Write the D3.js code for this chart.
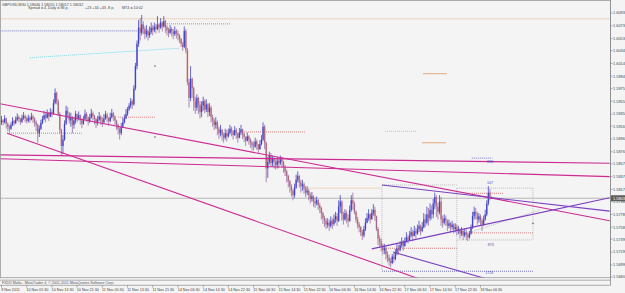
<!DOCTYPE html>
<html>
<head>
<meta charset="utf-8">
<script src="https://cdn.jsdelivr.net/npm/d3@7"></script>
<style>
  body { margin: 0; background: #f4f4f4; }
  svg { display: block; font-family: "Liberation Sans", Arial, sans-serif; }
</style>
</head>
<body>
<script>

// GBPUSD M30 bars, prices in pips above 1.5000 (925 = 1.5925)
// one row = 16 bars (8 hours), first bar 9 Nov 21:30
var firstOpen = 922;
var closes = [
  925, 922, 928, 920, 915, 912, 918, 924, 921, 926, 930, 927, 923, 929, 932, 928,
  924, 929, 926, 931, 928, 922, 918, 905, 912, 921, 927, 933, 929, 936, 931, 938,
  935, 952, 968, 955, 935, 910, 885, 895, 920, 940, 935, 925, 930, 918, 925, 935,
  928, 933, 925, 920, 927, 935, 930, 924, 929, 936, 932, 927, 921, 926, 931, 925,
  922, 928, 934, 929, 924, 930, 936, 931, 925, 918, 912, 905, 915, 922, 928, 935,
  942, 948, 955, 950, 975, 1010, 1045, 1070, 1062, 1075, 1068, 1060, 1065, 1058, 1063, 1070,
  1066, 1072, 1068, 1075, 1070, 1078, 1072, 1080, 1071, 1066, 1062, 1068, 1064, 1060, 1065, 1061,
  1058, 1052, 1045, 1040, 1065, 1035, 985, 960, 990, 975, 955, 945, 960, 950, 938, 948,
  955, 942, 950, 938, 945, 930, 925, 918, 922, 912, 905, 910, 902, 898, 905, 900,
  905, 912, 908, 902, 910, 905, 898, 906, 911, 904, 899, 893, 900, 895, 890, 886,
  884, 892, 887, 880, 888, 895, 915, 890, 850, 860, 870, 858, 865, 860, 855, 862,
  858, 864, 860, 852, 845, 838, 830, 822, 815, 808, 820, 832, 838, 828, 822, 825,
  818, 812, 815, 808, 802, 806, 798, 795, 800, 792, 788, 780, 772, 768, 762, 765,
  760, 768, 763, 770, 775, 768, 790, 798, 778, 770, 780, 772, 768, 785, 800, 795,
  782, 770, 762, 758, 750, 745, 755, 765, 772, 778, 770, 780, 785, 775, 755, 740,
  735, 728, 722, 725, 715, 710, 705, 702, 712, 708, 718, 725, 722, 730, 735, 728,
  736, 742, 738, 745, 750, 744, 752, 748, 755, 760, 752, 758, 770, 765, 778, 772,
  785, 778, 795, 805, 790, 782, 798, 770, 765, 772, 768, 760, 764, 758, 762, 755,
  758, 752, 755, 748, 752, 745, 750, 746, 742, 748, 758, 775, 782, 778, 770, 775,
  768, 762, 770, 778, 795, 812, 805, 803
];
var highs = [
  932, 927, 933, 929, 922, 918, 922, 930, 926, 931, 936, 933, 929, 934, 938, 934,
  931, 934, 932, 937, 934, 930, 925, 920, 917, 926, 932, 940, 936, 942, 938, 944,
  942, 958, 975, 970, 958, 938, 912, 902, 925, 948, 946, 938, 937, 932, 930, 940,
  936, 939, 934, 928, 932, 942, 938, 931, 935, 943, 939, 934, 929, 932, 938, 933,
  930, 935, 940, 937, 930, 937, 943, 938, 933, 926, 920, 914, 921, 929, 934, 943,
  946, 952, 960, 958, 980, 1015, 1050, 1082, 1085, 1090, 1080, 1072, 1074, 1068, 1072, 1078,
  1074, 1078, 1076, 1088, 1077, 1085, 1080, 1088, 1082, 1074, 1070, 1074, 1071, 1068, 1072, 1068,
  1066, 1060, 1054, 1048, 1072, 1068, 1038, 990, 1010, 992, 978, 962, 966, 962, 955, 955,
  962, 958, 958, 952, 952, 948, 934, 928, 930, 925, 915, 918, 912, 906, 912, 910,
  912, 918, 915, 910, 916, 913, 906, 913, 918, 912, 906, 900, 906, 902, 897, 893,
  892, 898, 895, 888, 894, 902, 922, 918, 892, 868, 876, 874, 870, 868, 864, 868,
  866, 870, 868, 862, 855, 848, 840, 832, 825, 818, 826, 840, 845, 840, 832, 832,
  828, 822, 822, 818, 812, 813, 808, 804, 806, 802, 796, 790, 782, 776, 772, 772,
  770, 775, 772, 778, 782, 780, 800, 808, 800, 782, 786, 784, 778, 792, 808, 812,
  798, 784, 774, 766, 760, 754, 760, 772, 780, 786, 780, 786, 794, 790, 776, 758,
  745, 740, 732, 732, 728, 720, 715, 710, 716, 718, 724, 732, 730, 736, 742, 738,
  742, 750, 746, 752, 758, 754, 760, 757, 762, 768, 762, 766, 780, 778, 790, 788,
  795, 792, 802, 812, 808, 796, 808, 805, 776, 778, 776, 770, 770, 766, 768, 764,
  764, 762, 760, 756, 758, 754, 756, 754, 750, 752, 762, 782, 790, 788, 782, 780,
  778, 772, 776, 785, 800, 822, 818, 806
];
var lows = [
  918, 917, 920, 912, 908, 906, 910, 916, 917, 919, 924, 922, 918, 921, 926, 922,
  920, 922, 921, 925, 921, 915, 908, 890, 899, 910, 919, 925, 922, 928, 924, 930,
  930, 934, 950, 950, 932, 905, 870, 872, 893, 918, 928, 920, 915, 905, 912, 920,
  922, 925, 918, 913, 918, 926, 923, 917, 921, 928, 925, 919, 913, 917, 924, 918,
  915, 920, 926, 922, 917, 922, 928, 924, 918, 910, 903, 895, 902, 913, 920, 927,
  932, 940, 944, 943, 948, 972, 1005, 1040, 1050, 1058, 1060, 1052, 1055, 1050, 1054, 1060,
  1058, 1063, 1061, 1066, 1062, 1068, 1064, 1070, 1062, 1058, 1055, 1060, 1056, 1052, 1057, 1053,
  1050, 1046, 1040, 1034, 1038, 1030, 980, 945, 955, 960, 940, 935, 940, 935, 928, 930,
  940, 936, 938, 930, 932, 922, 915, 910, 912, 902, 896, 900, 893, 890, 895, 892,
  898, 903, 900, 895, 901, 896, 890, 897, 902, 896, 891, 885, 892, 887, 882, 878,
  878, 882, 879, 874, 879, 886, 893, 880, 828, 835, 856, 852, 853, 850, 848, 850,
  850, 855, 852, 843, 838, 828, 820, 812, 806, 800, 804, 818, 828, 820, 812, 815,
  810, 805, 808, 800, 795, 798, 790, 788, 792, 785, 780, 770, 763, 758, 755, 757,
  752, 757, 755, 760, 765, 760, 766, 780, 768, 762, 768, 764, 758, 766, 782, 785,
  778, 765, 756, 750, 744, 738, 742, 752, 764, 768, 764, 770, 776, 768, 752, 730,
  726, 720, 715, 716, 707, 703, 698, 695, 700, 702, 706, 714, 715, 720, 726, 721,
  728, 734, 732, 737, 742, 736, 744, 740, 746, 750, 745, 750, 756, 758, 762, 760,
  768, 770, 772, 786, 774, 770, 778, 760, 757, 762, 760, 752, 756, 750, 754, 748,
  750, 745, 747, 740, 744, 738, 742, 738, 736, 740, 746, 755, 770, 770, 762, 765,
  760, 752, 760, 768, 775, 792, 800, 802
];

var bid = 803.2;

// price axis labels
var priceTicks = [1.56800, 1.56990, 1.57190, 1.57390, 1.57580, 1.57780, 1.57980, 1.58170,
  1.58370, 1.58570, 1.58760, 1.58960, 1.59160, 1.59350, 1.59550, 1.59750, 1.59940,
  1.60140, 1.60340, 1.60530, 1.60730, 1.60930];

// time axis labels, one every 16 bars
var timeLabels = ["9 Nov 2011", "10 Nov 05:30", "10 Nov 13:30", "10 Nov 21:30", "11 Nov 05:30",
  "11 Nov 13:30", "11 Nov 21:30", "14 Nov 06:30", "14 Nov 14:30", "14 Nov 22:30", "15 Nov 06:30",
  "15 Nov 14:30", "15 Nov 22:30", "16 Nov 06:30", "16 Nov 14:30", "16 Nov 22:30", "17 Nov 06:30",
  "17 Nov 14:30", "17 Nov 22:30", "18 Nov 06:30"];

// chart objects: [bar from, price from, bar to, price to] in pips
var magentaLines = [[-1, 951, 386, 768], [3.5, 905, 264, 678], [-1, 871, 386, 858], [-1, 865, 386, 837]];
var purpleLines = [[235, 724, 386, 804], [241.5, 824, 386, 783], [248.5, 719, 308, 677]];
var tanDots = [[-2, 1084, 390, 1084], [243.4, 908, 263.7, 908], [193, 819, 240.5, 819]];
var tanSolid = [[266.9, 890, 282.1, 890], [267.5, 998, 282.8, 998]];
var blueDots = [[-2, 1065, 86, 1065], [298.5, 866, 311.5, 866], [241.5, 689, 337.3, 689]];
var redDots = [[102.5, 1076, 145, 1076], [3.5, 905, 51, 905], [74, 930, 97.4, 930], [151.4, 907, 192.6, 907],
  [297.4, 811, 318.3, 811], [297.4, 749, 337.3, 749], [241.5, 725, 289, 725]];
var cyanDots = [[18, 1023, 113.3, 1038]];
var grayDots = [[241.5, 824, 241.5, 691], [241.5, 824, 289, 824], [289, 819, 289, 691], [289, 819, 337.3, 819],
  [337.3, 819, 337.3, 738], [289, 738, 337.3, 738], [297.4, 750, 341.8, 785]];
var boxLabels = [["888", 308.2, 860], ["107", 308.2, 827], ["873", 308.6, 730], ["1728", 307, 686]];
var smallMarks = [[97.4, 1010], [97.4, 899], [337.3, 764]];

var W = 625, H = 293;
var plotRight = 610.5, plotBottom = 277.7;
var wickColor = "#2c2cb4";
var upBody = "#6b6be0", downBody = "#d9826c";

var x = d3.scaleLinear().domain([0, 311]).range([1.5, 491.5]);
var y = d3.scaleLinear().domain([1.56800, 1.60930]).range([277, 13]);
function py(p) { return y(1.5 + p / 10000); }

var svg = d3.select("body").append("svg")
    .attr("width", W)
    .attr("height", H);

svg.append("rect").attr("width", W).attr("height", H).attr("fill", "#f4f4f4");

svg.append("clipPath").attr("id", "plot")
    .append("rect").attr("x", 0).attr("y", 1).attr("width", plotRight).attr("height", plotBottom - 1);

var plot = svg.append("g").attr("clip-path", "url(#plot)");

// bid line
plot.append("line")
    .attr("x1", 0).attr("x2", plotRight)
    .attr("y1", py(bid)).attr("y2", py(bid))
    .attr("stroke", "#a8a8a8").attr("stroke-width", 0.8);

function drawSegs(data, color, width, dash) {
    plot.append("g").selectAll("line")
        .data(data)
        .enter()
        .append("line")
        .attr("x1", function(d) { return x(d[0]); })
        .attr("y1", function(d) { return py(d[1]); })
        .attr("x2", function(d) { return x(d[2]); })
        .attr("y2", function(d) { return py(d[3]); })
        .attr("stroke", color)
        .attr("stroke-width", width)
        .attr("stroke-dasharray", dash);
}

drawSegs(tanDots, "#e0a878", 0.8, "1,1");
drawSegs(blueDots, "#5555c0", 0.8, "1,1");
drawSegs(redDots, "#d06060", 0.8, "1,1");
drawSegs(cyanDots, "#60d0e0", 0.8, "1,1");
drawSegs(grayDots, "#9a9a9a", 0.6, "1,1");
drawSegs(tanSolid, "#e0a070", 0.9, null);

// candles: body first, wick on top
var bars = closes.map(function(c, i) {
    return {i: i, o: i ? closes[i - 1] : firstOpen, h: highs[i], l: lows[i], c: c};
});

plot.append("g").selectAll("rect")
    .data(bars)
    .enter()
    .append("rect")
    .attr("x", function(d) { return x(d.i) - 0.75; })
    .attr("width", 1.5)
    .attr("y", function(d) { return py(Math.max(d.o, d.c)); })
    .attr("height", function(d) { return Math.max(0.6, Math.abs(py(d.o) - py(d.c))); })
    .attr("fill", function(d) { return d.c >= d.o ? upBody : downBody; });

plot.append("g").selectAll("line")
    .data(bars)
    .enter()
    .append("line")
    .attr("x1", function(d) { return x(d.i); })
    .attr("x2", function(d) { return x(d.i); })
    .attr("y1", function(d) { return py(d.h); })
    .attr("y2", function(d) { return py(d.l); })
    .attr("stroke", function(d) { return d.c >= d.o ? wickColor : "#8a5a9a"; })
    .attr("stroke-width", 0.7);

// trendlines
drawSegs(magentaLines, "#cc2a92", 1.1, null);
drawSegs(purpleLines, "#7a3fc0", 1.1, null);

// small marks and labels
plot.append("g").selectAll("rect")
    .data(smallMarks)
    .enter()
    .append("rect")
    .attr("x", function(d) { return x(d[0]) - 1; })
    .attr("y", function(d) { return py(d[1]) - 0.5; })
    .attr("width", 2).attr("height", 1)
    .attr("fill", "#6a6a9a");

plot.append("g").selectAll("text")
    .data(boxLabels)
    .enter()
    .append("text")
    .attr("x", function(d) { return x(d[1]); })
    .attr("y", function(d) { return py(d[2]) + 1.3; })
    .attr("font-size", 3.6)
    .attr("fill", "#5050b0")
    .text(function(d) { return d[0]; });

// frame
svg.append("rect")
    .attr("x", 0.5).attr("y", 0.5)
    .attr("width", plotRight - 0.5).attr("height", plotBottom - 0.5)
    .attr("fill", "none").attr("stroke", "#9a9a9a").attr("stroke-width", 0.8);

// sub window strip
[280.2, 285.3].forEach(function(yy) {
    svg.append("line").attr("x1", 0).attr("x2", plotRight)
        .attr("y1", yy).attr("y2", yy)
        .attr("stroke", "#9a9a9a").attr("stroke-width", 0.8);
});
svg.append("line").attr("x1", plotRight).attr("x2", plotRight)
    .attr("y1", 0).attr("y2", 285.3)
    .attr("stroke", "#8a8a8a").attr("stroke-width", 0.8);

svg.append("text")
    .attr("x", 2).attr("y", 284.2)
    .attr("font-size", 3.6).attr("fill", "#555")
    .text("FXDD Malta - MetaTrader 4, \u00a9 2001-2011 MetaQuotes Software Corp.");

// price axis
var yAxis = svg.append("g");
yAxis.selectAll("line")
    .data(priceTicks)
    .enter()
    .append("line")
    .attr("x1", plotRight).attr("x2", plotRight + 2)
    .attr("y1", function(d) { return y(d); })
    .attr("y2", function(d) { return y(d); })
    .attr("stroke", "#777").attr("stroke-width", 0.6);
yAxis.selectAll("text")
    .data(priceTicks)
    .enter()
    .append("text")
    .attr("x", 613)
    .attr("y", function(d) { return y(d) + 1.4; })
    .attr("font-size", 3.9)
    .attr("fill", "#444")
    .text(function(d) { return d.toFixed(5); });

// bid box
svg.append("rect")
    .attr("x", plotRight + 0.5).attr("y", py(bid) - 3)
    .attr("width", 15).attr("height", 6)
    .attr("fill", "#5c5c5c");
svg.append("text")
    .attr("x", 613).attr("y", py(bid) + 1.4)
    .attr("font-size", 3.9).attr("fill", "#fff")
    .text((1.5 + bid / 10000).toFixed(5));

// time axis
var xAxis = svg.append("g");
xAxis.selectAll("line")
    .data(timeLabels)
    .enter()
    .append("line")
    .attr("x1", function(d, i) { return x(i * 16); })
    .attr("x2", function(d, i) { return x(i * 16); })
    .attr("y1", 285.3).attr("y2", 287.5)
    .attr("stroke", "#777").attr("stroke-width", 0.6);
xAxis.selectAll("text")
    .data(timeLabels)
    .enter()
    .append("text")
    .attr("x", function(d, i) { return x(i * 16) - 0.3; })
    .attr("y", 290.6)
    .attr("font-size", 3.7)
    .attr("fill", "#444")
    .text(function(d) { return d; });

// header text
var header = [["GBPUSD,M30  1.58046 1.58055 1.58017 1.58032", 2, 5.6],
  ["Spread = 4,", 28, 8.6], ["Daily  = 86 p,", 48, 8.6],
  ["+23 +34 +43 -8 p,", 85, 8.6], ["MT4  = 10:02", 122, 8.6]];
svg.append("g").selectAll("text")
    .data(header)
    .enter()
    .append("text")
    .attr("x", function(d) { return d[1]; })
    .attr("y", function(d) { return d[2]; })
    .attr("font-size", 3.7)
    .attr("fill", "#444")
    .text(function(d) { return d[0]; });

</script>
</body>
</html>
